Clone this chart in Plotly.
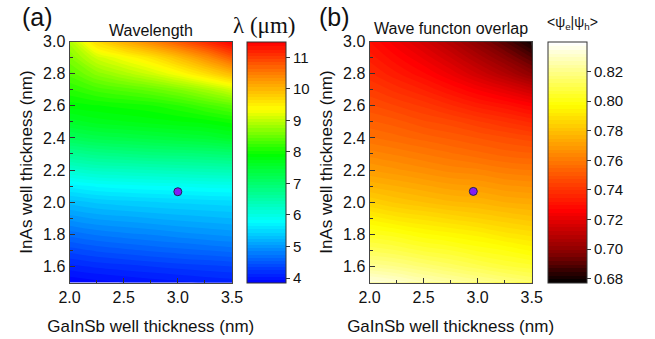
import plotly.graph_objects as go

W, H = 655, 339

# ---------------- data ----------------
gainsb = [2.0, 2.25, 2.5, 2.75, 3.0, 3.25, 3.5]
inas = [1.5, 1.6, 1.7, 1.8, 1.9, 2.0, 2.1, 2.2, 2.3, 2.4, 2.5, 2.6, 2.7, 2.8, 2.9, 3.0]

# wavelength (um), rows follow inas, columns follow gainsb
wavelength = [
    [3.87, 3.92, 3.96, 4.00, 4.03, 4.07, 4.10],
    [4.12, 4.18, 4.22, 4.26, 4.30, 4.33, 4.36],
    [4.40, 4.48, 4.53, 4.58, 4.62, 4.66, 4.70],
    [4.70, 4.78, 4.83, 4.87, 4.92, 4.96, 5.00],
    [5.00, 5.08, 5.12, 5.16, 5.20, 5.23, 5.26],
    [5.30, 5.38, 5.42, 5.45, 5.48, 5.50, 5.52],
    [5.70, 5.78, 5.82, 5.85, 5.87, 5.90, 5.92],
    [6.20, 6.30, 6.33, 6.36, 6.39, 6.42, 6.45],
    [6.70, 6.80, 6.85, 6.90, 6.92, 6.95, 7.00],
    [7.20, 7.30, 7.35, 7.40, 7.45, 7.50, 7.60],
    [7.60, 7.70, 7.75, 7.80, 7.85, 7.90, 8.00],
    [7.90, 7.95, 8.00, 8.05, 8.15, 8.30, 8.45],
    [8.15, 8.30, 8.40, 8.50, 8.65, 8.85, 9.10],
    [8.40, 8.70, 8.90, 9.10, 9.35, 9.65, 10.00],
    [8.65, 9.10, 9.35, 9.60, 9.95, 10.35, 10.80],
    [8.90, 9.70, 10.10, 10.45, 10.80, 11.15, 11.50],
]

# wave function overlap <psi_e|psi_h>
overlap = [
    [0.835, 0.832, 0.828, 0.825, 0.822, 0.819, 0.816],
    [0.822, 0.820, 0.817, 0.814, 0.811, 0.808, 0.806],
    [0.812, 0.810, 0.807, 0.805, 0.802, 0.800, 0.797],
    [0.803, 0.801, 0.798, 0.796, 0.794, 0.791, 0.789],
    [0.794, 0.791, 0.789, 0.787, 0.785, 0.783, 0.781],
    [0.785, 0.782, 0.780, 0.778, 0.777, 0.775, 0.774],
    [0.777, 0.775, 0.773, 0.771, 0.770, 0.768, 0.767],
    [0.770, 0.768, 0.766, 0.764, 0.763, 0.761, 0.760],
    [0.764, 0.762, 0.760, 0.758, 0.756, 0.754, 0.753],
    [0.758, 0.756, 0.754, 0.752, 0.750, 0.748, 0.746],
    [0.753, 0.751, 0.748, 0.746, 0.743, 0.740, 0.737],
    [0.748, 0.745, 0.742, 0.738, 0.734, 0.731, 0.727],
    [0.743, 0.739, 0.735, 0.730, 0.725, 0.720, 0.714],
    [0.738, 0.733, 0.728, 0.722, 0.715, 0.708, 0.700],
    [0.734, 0.728, 0.722, 0.715, 0.707, 0.699, 0.690],
    [0.730, 0.723, 0.716, 0.708, 0.699, 0.690, 0.680],
]

marker_a = {"x": [3.0], "y": [2.065]}
marker_b = {"x": [2.96], "y": [2.067]}

wl_ticks = [4, 5, 6, 7, 8, 9, 10, 11]
ov_ticks = [0.68, 0.70, 0.72, 0.74, 0.76, 0.78, 0.80, 0.82]

# ---------------- styling ----------------
def px_x(p):
    return p / W

def px_y(p):
    return 1 - p / H

FONT = "Liberation Sans, Arial, sans-serif"

rainbow = [
    [0.0, "rgb(0,0,255)"],
    [0.254, "rgb(0,255,255)"],
    [0.535, "rgb(0,255,0)"],
    [0.725, "rgb(255,255,0)"],
    [0.87, "rgb(255,130,0)"],
    [1.0, "rgb(255,0,0)"],
]
hot = [
    [0.0, "rgb(0,0,0)"],
    [0.03, "rgb(30,0,0)"],
    [0.12, "rgb(130,0,0)"],
    [0.30, "rgb(255,0,0)"],
    [0.74, "rgb(255,255,0)"],
    [1.0, "rgb(255,255,255)"],
]

top_px, bot_px = 41.5, 282.5
ya_dom = [px_y(bot_px), px_y(top_px)]
xa_dom = [px_x(69.5), px_x(232)]
xb_dom = [px_x(369.5), px_x(531.7)]

cb_common = dict(
    thickness=38.5, thicknessmode="pixels",
    len=(bot_px - top_px) / H, lenmode="fraction",
    y=px_y(bot_px), yanchor="bottom",
    xanchor="left", xpad=0, ypad=0,
    outlinewidth=1, outlinecolor="#333",
    ticks="outside", ticklen=4, tickwidth=1, tickcolor="#333",
    tickfont=dict(family=FONT, size=15, color="#111"),
)

fig = go.Figure()

fig.add_trace(go.Contour(
    x=gainsb, y=inas, z=wavelength,
    colorscale=rainbow, zmin=3.86, zmax=11.5, zauto=False,
    contours=dict(start=3.86, end=11.5, size=0.1, coloring="fill", showlines=False),
    line=dict(width=0),
    colorbar=dict(x=px_x(247), tickvals=wl_ticks, **cb_common),
    xaxis="x", yaxis="y",
))
fig.add_trace(go.Contour(
    x=gainsb, y=inas, z=overlap,
    colorscale=hot, zmin=0.6775, zmax=0.8403, zauto=False,
    contours=dict(start=0.6775, end=0.8403, size=0.0025, coloring="fill", showlines=False),
    line=dict(width=0),
    colorbar=dict(x=px_x(548.3), tickvals=ov_ticks, tickformat=".2f", **cb_common),
    xaxis="x2", yaxis="y2",
))
for mk, xa, ya in [(marker_a, "x", "y"), (marker_b, "x2", "y2")]:
    fig.add_trace(go.Scatter(
        x=mk["x"], y=mk["y"], mode="markers",
        marker=dict(size=8, color="rgb(130,30,245)", line=dict(width=1, color="#222255")),
        xaxis=xa, yaxis=ya, showlegend=False, hoverinfo="skip",
    ))

ax_common = dict(
    showgrid=False, zeroline=False, automargin=False,
    showline=True, linecolor="#444", linewidth=1, mirror=True,
    ticks="inside", ticklen=5, tickwidth=1, tickcolor="#333",
    tickfont=dict(family=FONT, size=16, color="#111"),
    title_font=dict(family=FONT, size=17, color="#111"),
)
xticks = dict(range=[2.0, 3.5], tickvals=[2.0, 2.5, 3.0, 3.5], ticktext=["2.0", "2.5", "3.0", "3.5"],
              minor=dict(ticks="inside", ticklen=3, tickvals=[2.25, 2.75, 3.25], tickcolor="#333"),
              title_text="GaInSb well thickness (nm)", title_standoff=15)
yticks = dict(range=[1.5, 3.0], tickvals=[1.6, 1.8, 2.0, 2.2, 2.4, 2.6, 2.8, 3.0],
              ticktext=["1.6", "1.8", "2.0", "2.2", "2.4", "2.6", "2.8", "3.0"],
              minor=dict(ticks="inside", ticklen=3, tickvals=[1.5, 1.7, 1.9, 2.1, 2.3, 2.5, 2.7, 2.9], tickcolor="#333"),
              title_text="InAs well thickness (nm)", title_standoff=6)

fig.update_layout(
    width=W, height=H,
    margin=dict(l=0, r=0, t=0, b=0, autoexpand=False),
    paper_bgcolor="white", plot_bgcolor="white",
    showlegend=False,
    xaxis=dict(domain=xa_dom, anchor="y", **xticks, **ax_common),
    yaxis=dict(domain=ya_dom, anchor="x", **yticks, **ax_common),
    xaxis2=dict(domain=xb_dom, anchor="y2", **xticks, **ax_common),
    yaxis2=dict(domain=ya_dom, anchor="x2", **yticks, **ax_common),
)

def ann(text, xp, yp, size, family=FONT, xanchor="center"):
    fig.add_annotation(text=text, x=px_x(xp), y=px_y(yp), xref="paper", yref="paper",
                       showarrow=False, xanchor=xanchor, yanchor="middle",
                       font=dict(family=family, size=size, color="#111"))

ann("(a)", 37, 17, 25)
ann("(b)", 334, 17, 25)
ann("Wavelength", 151, 30, 16)
ann("Wave functon overlap", 451, 29, 16)
ann("λ (μm)", 264, 25, 23, family="Liberation Serif, Times New Roman, serif")
ann("<ψ<sub>e</sub>|ψ<sub>h</sub>>", 572, 23, 14)

fig.write_html("out.html")
